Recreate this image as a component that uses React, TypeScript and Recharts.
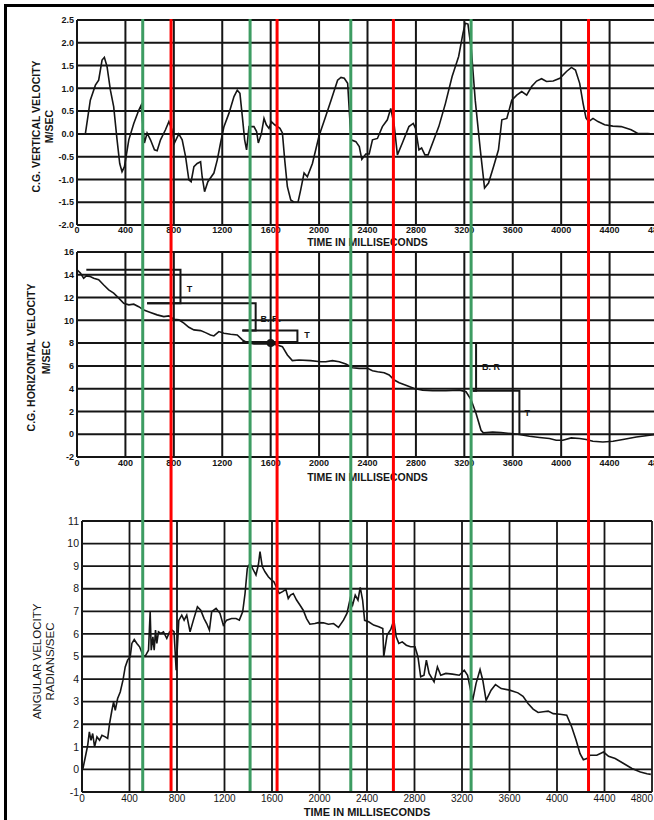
import React from "react";
import {
  LineChart,
  Line,
  XAxis,
  YAxis,
  CartesianGrid,
  ReferenceLine,
  ReferenceDot,
  Label,
} from "recharts";

type Pt = [number, number];

// time axis shared by all three panels (ms)
const timeTicks = [0, 400, 800, 1200, 1600, 2000, 2400, 2800, 3200, 3600, 4000, 4400, 4800];
const vertTicks = [-2, -1.5, -1, -0.5, 0, 0.5, 1, 1.5, 2, 2.5];
const horizTicks = [-2, 0, 2, 4, 6, 8, 10, 12, 14, 16];
const angTicks = [-1, 0, 1, 2, 3, 4, 5, 6, 7, 8, 9, 10, 11];

// C.G. vertical velocity, m/sec
const vertVelocity: Pt[] = [
  [0, 0.0], [69, 0.0], [110, 0.74], [152, 1.07], [179, 1.18], [207, 1.62], [226, 1.68],
  [248, 1.48], [276, 0.96], [303, 0.6], [331, -0.13], [353, -0.65], [372, -0.83], [392, -0.72],
  [428, -0.13], [469, 0.23], [510, 0.52], [530, 0.63], [557, -0.2], [579, 0.02], [607, -0.13],
  [640, -0.35], [662, -0.37], [690, -0.13], [731, 0.09], [759, 0.27], [783, 0.1], [805, -0.2],
  [841, 0.0], [869, -0.13], [897, -0.5], [924, -1.01], [943, -1.05], [966, -0.72], [993, -0.65],
  [1021, -0.61], [1034, -0.94], [1054, -1.27], [1081, -1.05], [1131, -0.86], [1159, -0.57],
  [1186, -0.2], [1214, 0.16], [1255, 0.45], [1297, 0.82], [1324, 0.96], [1346, 0.89],
  [1366, 0.38], [1385, -0.13], [1401, -0.35], [1421, 0.16], [1462, 0.16], [1484, 0.05],
  [1498, -0.2], [1523, 0.0], [1545, 0.34], [1564, 0.2], [1586, 0.12], [1606, 0.27], [1633, 0.2],
  [1677, 0.12], [1697, 0.02], [1716, -0.57], [1738, -1.16], [1766, -1.45], [1793, -1.5],
  [1826, -1.5], [1848, -1.23], [1876, -0.86], [1903, -0.94], [1945, -0.65], [2000, -0.04],
  [2050, 0.35], [2099, 0.74], [2153, 1.18], [2181, 1.24], [2208, 1.22], [2236, 1.11],
  [2264, -0.13], [2304, -0.17], [2332, -0.28], [2353, -0.56], [2386, -0.44], [2414, -0.44],
  [2441, -0.13], [2482, -0.1], [2523, 0.16], [2564, 0.31], [2592, 0.56], [2620, 0.2],
  [2647, -0.46], [2688, -0.2], [2742, 0.16], [2778, 0.23], [2797, 0.12], [2825, -0.35],
  [2847, -0.31], [2874, -0.46], [2901, -0.46], [2948, -0.13], [2989, 0.16], [3044, 0.67],
  [3099, 1.26], [3153, 1.7], [3189, 2.21], [3208, 2.43], [3230, 2.41], [3258, 1.84],
  [3290, 0.74], [3332, -0.35], [3367, -1.19], [3400, -1.08], [3441, -0.72], [3482, -0.35],
  [3510, 0.31], [3551, 0.34], [3592, 0.74], [3633, 0.85], [3674, 0.93], [3715, 0.85],
  [3756, 1.04], [3797, 1.16], [3838, 1.21], [3879, 1.15], [3934, 1.16], [3989, 1.22],
  [4044, 1.37], [4085, 1.46], [4118, 1.4], [4153, 1.11], [4181, 0.67], [4205, 0.35],
  [4227, 0.27], [4263, 0.34], [4304, 0.27], [4359, 0.2], [4427, 0.17], [4496, 0.16],
  [4578, 0.09], [4633, 0.01], [4715, 0.01], [4800, -0.01],
];

// C.G. horizontal velocity, m/sec
const horizVelocity: Pt[] = [
  [0, 14.44], [28, 14.15], [55, 13.7], [77, 13.9], [105, 13.86], [138, 13.7], [179, 13.56],
  [221, 13.1], [262, 12.68], [303, 12.39], [345, 11.95], [386, 11.5], [428, 11.36],
  [469, 11.42], [510, 11.2], [552, 10.9], [607, 10.69], [662, 10.48], [717, 10.33],
  [759, 10.39], [800, 10.1], [841, 10.04], [883, 9.75], [924, 9.39], [966, 9.16], [1021, 9.1],
  [1062, 8.92], [1103, 8.72], [1131, 8.63], [1172, 9.01], [1214, 8.87], [1269, 8.78],
  [1324, 8.72], [1366, 8.28], [1407, 8.04], [1462, 7.93], [1545, 7.93], [1600, 7.93],
  [1655, 7.84], [1697, 7.69], [1738, 6.96], [1779, 6.46], [1834, 6.52], [1931, 6.46],
  [2014, 6.37], [2055, 6.37], [2110, 6.46], [2166, 6.37], [2221, 6.16], [2276, 5.84],
  [2331, 5.78], [2400, 5.78], [2441, 5.58], [2483, 5.49], [2538, 5.4], [2579, 5.2],
  [2621, 4.76], [2662, 4.52], [2717, 4.31], [2786, 4.02], [2855, 3.87], [2938, 3.82],
  [3048, 3.82], [3159, 3.87], [3214, 3.73], [3255, 3.05], [3297, 1.82], [3338, 0.35],
  [3357, 0.12], [3434, 0.2], [3503, 0.15], [3586, 0.06], [3655, -0.03], [3738, -0.18],
  [3821, -0.29], [3903, -0.38], [3959, -0.53], [4014, -0.53], [4083, -0.32], [4152, -0.38],
  [4207, -0.47], [4262, -0.62], [4345, -0.68], [4428, -0.62], [4510, -0.47], [4621, -0.24],
  [4731, -0.09], [4800, 0.02],
];

// bracket outlines drawn on the horizontal velocity panel
const bracketT1: Pt[] = [[77, 14.44], [855, 14.44], [855, 11.5], [579, 11.5]];
const bracketBR1: Pt[] = [[579, 11.5], [1476, 11.5], [1476, 9.1], [1366, 9.1]];
const bracketT2: Pt[] = [[1366, 9.1], [1821, 9.1], [1821, 8.1], [1366, 8.1]];
const bracketBR2: Pt[] = [[1366, 8.0], [3297, 8.0], [3297, 3.82], [3269, 3.82]];
const bracketT3: Pt[] = [[3269, 3.82], [3655, 3.82], [3655, -0.03]];
const bracketLabels = [
  { t: 930, v: 12.8, text: "T" },
  { t: 1600, v: 10.1, text: "B. R." },
  { t: 1900, v: 8.7, text: "T" },
  { t: 3420, v: 5.95, text: "B. R" },
  { t: 3720, v: 1.9, text: "T" },
];

// angular velocity, radians/sec
const angVelocity: Pt[] = [
  [0, -0.05], [8, 0.04], [28, 0.55], [48, 1.07], [62, 1.66], [76, 1.29], [90, 1.59], [106, 1.0],
  [126, 1.44], [148, 1.29], [168, 1.51], [196, 1.44], [216, 1.37], [232, 2.03], [252, 2.62],
  [266, 2.99], [280, 2.62], [300, 3.14], [322, 3.43], [345, 3.95], [364, 4.54], [384, 4.84],
  [406, 4.99], [420, 5.58], [440, 5.75], [462, 5.58], [485, 5.43], [513, 5.06], [532, 5.01],
  [560, 5.28], [574, 6.98], [583, 5.28], [597, 5.87], [608, 5.28], [619, 6.17], [630, 5.58],
  [644, 6.09], [664, 6.02], [686, 6.09], [714, 5.8], [737, 6.09], [756, 6.17], [775, 6.1],
  [793, 4.39], [815, 6.6], [840, 6.83], [860, 6.61], [882, 6.83], [910, 6.09], [938, 6.61],
  [972, 7.2], [1000, 7.05], [1028, 6.68], [1050, 6.46], [1073, 6.17], [1092, 6.98],
  [1129, 7.13], [1162, 6.91], [1190, 6.39], [1218, 6.61], [1260, 6.68], [1297, 6.68],
  [1325, 6.61], [1353, 6.98], [1373, 7.79], [1392, 8.9], [1415, 9.12], [1443, 8.83],
  [1465, 8.61], [1485, 9.05], [1499, 9.64], [1518, 8.98], [1541, 8.75], [1569, 8.53],
  [1597, 8.38], [1616, 8.31], [1661, 7.79], [1689, 7.87], [1717, 7.97], [1737, 7.57],
  [1756, 7.72], [1779, 7.79], [1807, 7.5], [1835, 7.28], [1863, 7.05], [1891, 6.68],
  [1919, 6.43], [1961, 6.46], [1990, 6.5], [2033, 6.49], [2075, 6.43], [2118, 6.46],
  [2160, 6.29], [2202, 6.61], [2231, 6.91], [2259, 7.57], [2279, 7.28], [2301, 7.72],
  [2324, 7.5], [2343, 8.06], [2363, 7.5], [2380, 6.6], [2414, 6.54], [2456, 6.39],
  [2499, 6.32], [2533, 6.24], [2541, 4.99], [2569, 5.95], [2600, 6.2], [2626, 6.61],
  [2646, 5.87], [2668, 5.58], [2697, 5.65], [2731, 5.5], [2767, 5.43], [2804, 5.43],
  [2829, 4.99], [2852, 4.1], [2880, 4.17], [2900, 4.84], [2923, 4.25], [2965, 3.88],
  [2993, 4.54], [3021, 4.17], [3064, 4.25], [3120, 4.22], [3177, 4.17], [3219, 4.39],
  [3247, 4.17], [3290, 3.06], [3318, 3.8], [3352, 4.42], [3375, 3.95], [3403, 3.06],
  [3445, 3.51], [3482, 3.76], [3530, 3.58], [3601, 3.51], [3671, 3.39], [3714, 3.24],
  [3756, 2.92], [3799, 2.67], [3841, 2.52], [3884, 2.55], [3926, 2.58], [3968, 2.47],
  [4025, 2.44], [4082, 2.4], [4124, 1.88], [4161, 1.29], [4194, 0.7], [4222, 0.43],
  [4251, 0.48], [4279, 0.63], [4335, 0.63], [4392, 0.77], [4434, 0.58], [4490, 0.48],
  [4561, 0.26], [4631, 0.04], [4702, -0.11], [4758, -0.19], [4790, -0.22],
];

// event markers laid over the whole figure (ms)
const greenMarks = [543, 1430, 2262, 3256];
const redMarks = [777, 1653, 2614, 4226];

const FONT = "'Liberation Sans', Arial, Helvetica, sans-serif";
const INK = "#151515";
const GREEN = "#3d9c62";
const RED = "#ff0000";

const rows = (pts: Pt[]) => pts.map(([t, v]) => ({ t, v }));

const yTitle = (line1: string, line2: string, x1: number, x2: number, dy: number, size: number, weight: number) =>
  (props: any) => {
    const vb = props.viewBox || { y: 0, height: 0 };
    const cy = vb.y + vb.height / 2 + dy;
    return (
      <g fontFamily={FONT} fontSize={size} fontWeight={weight} fill={INK}>
        <text x={x1} y={cy} textAnchor="middle" dominantBaseline="central" transform={`rotate(-90 ${x1} ${cy})`}>
          {line1}
        </text>
        <text x={x2} y={cy} textAnchor="middle" dominantBaseline="central" transform={`rotate(-90 ${x2} ${cy})`}>
          {line2}
        </text>
      </g>
    );
  };

const xTitle = (dy: number, size: number) => (props: any) => {
  const vb = props.viewBox || { x: 0, y: 0, width: 0 };
  return (
    <text
      x={vb.x + vb.width / 2}
      y={vb.y + dy}
      textAnchor="middle"
      dominantBaseline="central"
      fontFamily={FONT}
      fontSize={size}
      fontWeight={700}
      fill={INK}
    >
      TIME IN MILLISECONDS
    </text>
  );
};

const boldTick = { fontSize: 9, fontWeight: 700, fill: INK, fontFamily: FONT };
const plainTick = { fontSize: 10.5, fontWeight: 400, fill: INK, fontFamily: FONT };

// bottom panel time ticks: last label sits inside the right border
const BottomTimeTick = (props: any) => {
  const { x, y, payload } = props;
  const last = payload.value === 4800;
  return (
    <text
      x={last ? x + 1 : x}
      y={y}
      dy="0.71em"
      textAnchor={last ? "end" : "middle"}
      fontFamily={FONT}
      fontSize={10}
      fill={INK}
    >
      {payload.value}
    </text>
  );
};

export default function App() {
  return (
    <div
      style={{
        position: "absolute",
        left: 0,
        top: 0,
        width: 654,
        height: 820,
        overflow: "hidden",
        background: "#fff",
      }}
    >
      {/* frame */}
      <div
        style={{
          position: "absolute",
          left: 4,
          top: 4,
          width: 660,
          height: 830,
          borderLeft: "3px solid #000",
          borderTop: "3px solid #000",
        }}
      />

      {/* C.G. vertical velocity */}
      <div style={{ position: "absolute", left: 0, top: 0 }}>
        <LineChart width={662} height={250} data={rows(vertVelocity)} margin={{ top: 20, right: 4, bottom: 0, left: 0 }}>
          <CartesianGrid stroke={INK} strokeWidth={2} />
          <XAxis
            type="number"
            dataKey="t"
            domain={[0, 4800]}
            ticks={timeTicks}
            height={25}
            tickLine={false}
            tickSize={0}
            tickMargin={2}
            axisLine={{ stroke: INK, strokeWidth: 2 }}
            tick={boldTick}
            interval={0}
          >
            <Label content={xTitle(17, 10.5)} />
          </XAxis>
          <YAxis
            domain={[-2, 2.5]}
            ticks={vertTicks}
            width={77}
            tickLine={false}
            tickSize={0}
            tickMargin={3}
            axisLine={{ stroke: INK, strokeWidth: 2 }}
            tick={boldTick}
            tickFormatter={(v: number) => v.toFixed(1)}
            interval={0}
          >
            <Label content={yTitle("C.G. VERTICAL VELOCITY", "M/SEC", 36, 49, 4, 10.5, 700)} />
          </YAxis>
          <Line dataKey="v" stroke={INK} strokeWidth={1.6} dot={false} isAnimationActive={false} />
        </LineChart>
      </div>

      {/* C.G. horizontal velocity */}
      <div style={{ position: "absolute", left: 0, top: 240 }}>
        <LineChart width={662} height={245} margin={{ top: 12, right: 4, bottom: 0, left: 0 }}>
          <CartesianGrid stroke={INK} strokeWidth={2} />
          <XAxis
            type="number"
            dataKey="t"
            domain={[0, 4800]}
            ticks={timeTicks}
            height={28}
            tickLine={false}
            tickSize={0}
            tickMargin={3}
            axisLine={{ stroke: INK, strokeWidth: 2 }}
            tick={boldTick}
            interval={0}
            allowDuplicatedCategory={false}
          >
            <Label content={xTitle(20, 10.5)} />
          </XAxis>
          <YAxis
            dataKey="v"
            domain={[-2, 16]}
            ticks={horizTicks}
            width={77}
            tickLine={false}
            tickSize={0}
            tickMargin={3}
            axisLine={{ stroke: INK, strokeWidth: 2 }}
            tick={boldTick}
            interval={0}
          >
            <Label content={yTitle("C.G. HORIZONTAL VELOCITY", "M/SEC", 31, 46, 3, 10.5, 700)} />
          </YAxis>
          <Line data={rows(horizVelocity)} dataKey="v" stroke={INK} strokeWidth={1.6} dot={false} isAnimationActive={false} />
          {[bracketT1, bracketBR1, bracketT2, bracketBR2, bracketT3].map((b, i) => (
            <Line
              key={`br-${i}`}
              data={rows(b)}
              dataKey="v"
              stroke={INK}
              strokeWidth={2}
              dot={false}
              isAnimationActive={false}
            />
          ))}
          <ReferenceDot x={1600} y={8} r={4} fill={INK} stroke="none" />
          {bracketLabels.map((l, i) => (
            <ReferenceDot
              key={`lb-${i}`}
              x={l.t}
              y={l.v}
              r={0}
              fill="none"
              stroke="none"
              label={{ value: l.text, position: "center", fill: INK, fontSize: 9, fontWeight: 700, fontFamily: FONT }}
            />
          ))}
        </LineChart>
      </div>

      {/* angular velocity */}
      <div style={{ position: "absolute", left: 0, top: 510 }}>
        <LineChart width={654} height={310} data={rows(angVelocity)} margin={{ top: 11, right: 2, bottom: 0, left: 0 }}>
          <CartesianGrid stroke={INK} strokeWidth={1.8} />
          <XAxis
            type="number"
            dataKey="t"
            domain={[0, 4800]}
            ticks={timeTicks}
            height={28}
            tickLine={false}
            tickSize={0}
            tickMargin={3}
            axisLine={{ stroke: INK, strokeWidth: 2 }}
            tick={<BottomTimeTick />}
            interval={0}
          >
            <Label content={xTitle(20, 11)} />
          </XAxis>
          <YAxis
            domain={[-1, 11]}
            ticks={angTicks}
            width={82}
            tickLine={false}
            tickSize={0}
            tickMargin={3}
            axisLine={{ stroke: INK, strokeWidth: 2 }}
            tick={plainTick}
            interval={0}
          >
            <Label content={yTitle("ANGULAR VELOCITY", "RADIANS/SEC", 37, 50, 5, 11.5, 400)} />
          </YAxis>
          <Line dataKey="v" stroke={INK} strokeWidth={1.6} dot={false} isAnimationActive={false} />
        </LineChart>
      </div>

      {/* colored event markers across all panels */}
      <div style={{ position: "absolute", left: 0, top: 0 }}>
        <LineChart
          width={662}
          height={820}
          data={greenMarks.concat(redMarks).map((t) => ({ t, v: 0.5 }))}
          margin={{ top: 19, right: 4, bottom: 29, left: 77 }}
        >
          <XAxis type="number" dataKey="t" domain={[0, 4800]} hide />
          <YAxis type="number" domain={[0, 1]} hide />
          <Line dataKey="v" stroke="none" dot={false} activeDot={false} isAnimationActive={false} />
          {greenMarks.map((t) => (
            <ReferenceLine key={`g-${t}`} x={t} stroke={GREEN} strokeWidth={3} ifOverflow="visible" />
          ))}
          {redMarks.map((t) => (
            <ReferenceLine key={`r-${t}`} x={t} stroke={RED} strokeWidth={3} ifOverflow="visible" />
          ))}
        </LineChart>
      </div>
    </div>
  );
}
